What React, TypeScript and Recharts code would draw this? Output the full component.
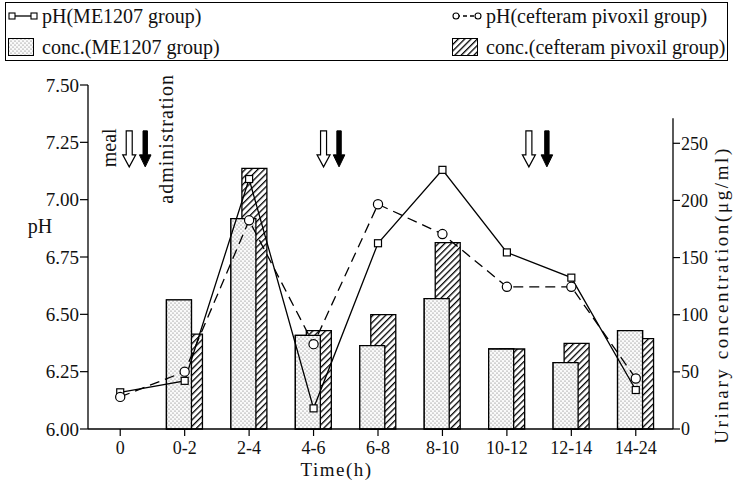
import React from 'react';
import { ComposedChart, Bar, Line, XAxis, YAxis, ReferenceDot, Legend, Label } from 'recharts';

const categories = ['0', '0-2', '2-4', '4-6', '6-8', '8-10', '10-12', '12-14', '14-24'];
const phME1207 = [6.16, 6.21, 7.09, 6.09, 6.81, 7.13, 6.77, 6.66, 6.17];
const phCefteram = [6.14, 6.25, 6.91, 6.37, 6.98, 6.85, 6.62, 6.62, 6.22];
const concME1207 = [null, 113, 184, 82, 73, 114, 70, 58, 86];
const concCefteram = [null, 83, 228, 86, 100, 163, 70, 75, 79];
const phTicks = [6, 6.25, 6.5, 6.75, 7, 7.25, 7.5];
const concTicks = [0, 50, 100, 150, 200, 250];
const concDomain = [0, 301];
const concAxisTop = 272;
const arrowCategories = ['0', '4-6', '10-12'];
const arrowPH = 7.3;

const NAME_PH_ME = 'pH(ME1207 group)';
const NAME_PH_CEF = 'pH(cefteram pivoxil group)';
const NAME_CONC_ME = 'conc.(ME1207 group)';
const NAME_CONC_CEF = 'conc.(cefteram pivoxil group)';

const data = categories.map((cat, i) => ({
  cat,
  phME: phME1207[i],
  phCef: phCefteram[i],
  concME: concME1207[i],
  concCef: concCefteram[i],
}));

const FONT = '"Liberation Serif", "Times New Roman", Tinos, "Nimbus Roman", "Nimbus Roman No9 L", FreeSerif, "DejaVu Serif", "Noto Serif", Times, serif';

const SquareDot = (p: any) => {
  if (p.cx == null || p.cy == null) return <g key={p.index} />;
  return (
    <rect key={`s${p.index}`} x={p.cx - 3.5} y={p.cy - 3.5} width={7} height={7} fill="#fff" stroke="#000" strokeWidth={1.2} />
  );
};

const CircleDot = (p: any) => {
  if (p.cx == null || p.cy == null) return <g key={p.index} />;
  return <circle key={`c${p.index}`} cx={p.cx} cy={p.cy} r={4.6} fill="#fff" stroke="#000" strokeWidth={1.2} />;
};

const openArrow = (x: number, y: number) =>
  `M${x - 3},${y} L${x + 3},${y} L${x + 3},${y + 24} L${x + 6.5},${y + 24} L${x},${y + 36} L${x - 6.5},${y + 24} L${x - 3},${y + 24} Z`;
const blackArrow = (x: number, y: number) =>
  `M${x - 2.2},${y} L${x + 2.2},${y} L${x + 2.2},${y + 24} L${x + 5.8},${y + 24} L${x},${y + 36} L${x - 5.8},${y + 24} L${x - 2.2},${y + 24} Z`;

const arrowOffsets = [
  [9, 25],
  [10, 25.5],
  [22, 40],
];

const ArrowPair = ({ cx, cy, idx }: { cx: number; cy: number; idx: number }) => {
  const [o, b] = arrowOffsets[idx];
  const mealX = cx - 11.5;
  const mealY = cy + 17;
  const admX = cx + 46;
  const admY = cy + 8;
  return (
    <g>
      <path d={openArrow(cx + o, cy)} fill="#fff" stroke="#000" strokeWidth={1.2} />
      <path d={blackArrow(cx + b, cy)} fill="#000" stroke="#000" strokeWidth={1} />
      {idx === 0 && (
        <>
          <text x={mealX} y={mealY} transform={`rotate(-90 ${mealX} ${mealY})`} textAnchor="middle" dominantBaseline="central" fontFamily={FONT} fontSize={20} fill="#111">
            meal
          </text>
          <text x={admX} y={admY} transform={`rotate(-90 ${admX} ${admY})`} textAnchor="middle" dominantBaseline="central" fontFamily={FONT} fontSize={20} letterSpacing={1} fill="#111">
            administration
          </text>
        </>
      )}
    </g>
  );
};

const LineSwatch = ({ dashed, square }: { dashed: boolean; square: boolean }) => (
  <svg width={30} height={12} style={{ display: 'block' }}>
    <line x1={4} y1={6} x2={26} y2={6} stroke="#000" strokeWidth={1.3} strokeDasharray={dashed ? '4 3' : undefined} />
    {square ? (
      <>
        <rect x={1} y={3} width={6} height={6} fill="#fff" stroke="#000" strokeWidth={1.1} />
        <rect x={23} y={3} width={6} height={6} fill="#fff" stroke="#000" strokeWidth={1.1} />
      </>
    ) : (
      <>
        <circle cx={4} cy={6} r={3} fill="#fff" stroke="#000" strokeWidth={1.1} />
        <circle cx={26} cy={6} r={3} fill="#fff" stroke="#000" strokeWidth={1.1} />
      </>
    )}
  </svg>
);

const BoxSwatch = ({ pattern }: { pattern: string }) => (
  <svg width={26} height={18} style={{ display: 'block' }}>
    <rect x={0.5} y={0.5} width={25} height={17} fill={`url(#${pattern})`} stroke="#000" strokeWidth={1} />
  </svg>
);

const LegendContent = () => {
  const textStyle: React.CSSProperties = { fontFamily: FONT, fontSize: 20, color: '#111', whiteSpace: 'nowrap', lineHeight: '22px' };
  const cell = (swatch: React.ReactNode, text: string) => (
    <div style={{ display: 'flex', alignItems: 'center', height: 26 }}>
      <div style={{ width: 34, display: 'flex', justifyContent: 'flex-start' }}>{swatch}</div>
      <span style={textStyle}>{text}</span>
    </div>
  );
  return (
    <div style={{ border: '1.5px solid #000', width: 723, height: 59, boxSizing: 'border-box', padding: '0 0 0 2px', display: 'grid', gridTemplateColumns: '444px 276px', alignContent: 'space-between' }}>
      {cell(<LineSwatch dashed={false} square={true} />, NAME_PH_ME)}
      {cell(<LineSwatch dashed={true} square={false} />, NAME_PH_CEF)}
      {cell(<BoxSwatch pattern="dotsL" />, NAME_CONC_ME)}
      {cell(<BoxSwatch pattern="hatchL" />, NAME_CONC_CEF)}
    </div>
  );
};

const PatternDefs = ({ suffix }: { suffix: string }) => (
  <defs>
    <pattern id={`dots${suffix}`} patternUnits="userSpaceOnUse" width={4} height={4}>
      <rect width={4} height={4} fill="#fafafa" />
      <circle cx={1} cy={1} r={0.6} fill="#666" />
      <circle cx={3} cy={3} r={0.6} fill="#666" />
    </pattern>
    <pattern id={`hatch${suffix}`} patternUnits="userSpaceOnUse" width={4.5} height={4.5} patternTransform="rotate(45)">
      <rect width={4.5} height={4.5} fill="#fff" />
      <line x1={0} y1={0} x2={0} y2={4.5} stroke="#000" strokeWidth={2.6} />
    </pattern>
  </defs>
);

export default function App() {
  return (
    <div style={{ position: 'absolute', left: 0, top: 0, width: 733, height: 480, background: '#fff' }}>
      <svg width={0} height={0} style={{ position: 'absolute' }}>
        <PatternDefs suffix="L" />
      </svg>
      <ComposedChart
        width={733}
        height={480}
        data={data}
        margin={{ top: 85, right: 0, bottom: 0, left: 0 }}
        barSize={25}
        barGap={-14}
      >
        <PatternDefs suffix="" />
        <Legend
          layout="vertical"
          align="center"
          verticalAlign="middle"
          wrapperStyle={{ position: 'absolute', top: 2, left: 5, width: 723 }}
          content={<LegendContent />}
        />
        <XAxis
          xAxisId="main"
          dataKey="cat"
          height={51}
          padding={{ left: 0, right: 5 }}
          tickSize={7}
          tickMargin={5}
          axisLine={{ stroke: '#000', strokeWidth: 1.3 }}
          tickLine={{ stroke: '#000', strokeWidth: 1.2 }}
          tick={{ fontFamily: FONT, fontSize: 18, fill: '#111' }}
          interval={0}
        >
          <Label
            content={(p: any) => {
              const vb = p.viewBox;
              const x = vb.x + vb.width / 2 - 44;
              const y = vb.y + 40;
              return (
                <text x={x} y={y} textAnchor="middle" dominantBaseline="central" fontFamily={FONT} fontSize={19} letterSpacing={1.5} fill="#111">
                  Time(h)
                </text>
              );
            }}
          />
        </XAxis>
        <XAxis xAxisId="over" dataKey="cat" hide padding={{ left: 0, right: 5 }} />
        <YAxis
          yAxisId="ph"
          orientation="left"
          width={88}
          domain={[6, 7.5]}
          ticks={phTicks}
          tickFormatter={(v: number) => v.toFixed(2)}
          tickSize={8}
          tickMargin={1}
          axisLine={{ stroke: '#000', strokeWidth: 1.3 }}
          tickLine={{ stroke: '#000', strokeWidth: 1.2 }}
          tick={{ fontFamily: FONT, fontSize: 19, fill: '#111' }}
        >
          <Label
            content={(p: any) => {
              const vb = p.viewBox;
              return (
                <text x={vb.x + 40} y={vb.y + vb.height / 2 - 31} textAnchor="middle" dominantBaseline="central" fontFamily={FONT} fontSize={20} fill="#111">
                  pH
                </text>
              );
            }}
          />
        </YAxis>
        <YAxis
          yAxisId="conc"
          orientation="right"
          width={60}
          domain={concDomain}
          ticks={concTicks}
          tickSize={7}
          tickMargin={1}
          axisLine={false}
          tickLine={{ stroke: '#000', strokeWidth: 1.2 }}
          tick={{ fontFamily: FONT, fontSize: 18, fill: '#111' }}
        >
          <Label
            content={(p: any) => {
              const vb = p.viewBox;
              const x = vb.x + 48;
              const y = vb.y + vb.height / 2 + 38;
              const bottom = vb.y + vb.height;
              const top = bottom - (vb.height * (concAxisTop - concDomain[0])) / (concDomain[1] - concDomain[0]);
              return (
                <g>
                  <line x1={vb.x} y1={bottom} x2={vb.x} y2={top} stroke="#000" strokeWidth={1.3} />
                  <text x={x} y={y} transform={`rotate(-90 ${x} ${y})`} textAnchor="middle" dominantBaseline="central" fontFamily={FONT} fontSize={19} letterSpacing={2.6} fill="#111">
                    Urinary concentration(μg/ml)
                  </text>
                </g>
              );
            }}
          />
        </YAxis>
        <Bar xAxisId="main" yAxisId="conc" dataKey="concME" name={NAME_CONC_ME} fill="url(#dots)" stroke="#000" strokeWidth={1.3} isAnimationActive={false} />
        <Bar xAxisId="main" yAxisId="conc" dataKey="concCef" name={NAME_CONC_CEF} fill="url(#hatch)" stroke="#000" strokeWidth={1.3} isAnimationActive={false} />
        <Bar xAxisId="over" yAxisId="conc" dataKey="concME" name="concME-top" legendType="none" fill="url(#dots)" stroke="#000" strokeWidth={1.3} isAnimationActive={false} />
        <Bar xAxisId="over" yAxisId="conc" dataKey="concCef" name="concCef-slot" legendType="none" fill="none" stroke="none" isAnimationActive={false} />
        <Line
          xAxisId="main"
          yAxisId="ph"
          type="linear"
          dataKey="phME"
          name={NAME_PH_ME}
          stroke="#000"
          strokeWidth={1.3}
          dot={SquareDot}
          activeDot={false}
          isAnimationActive={false}
        />
        <Line
          xAxisId="main"
          yAxisId="ph"
          type="linear"
          dataKey="phCef"
          name={NAME_PH_CEF}
          stroke="#000"
          strokeWidth={1.3}
          strokeDasharray="10 6"
          dot={CircleDot}
          activeDot={false}
          isAnimationActive={false}
        />
        {arrowCategories.map((c, i) => (
          <ReferenceDot
            key={c}
            xAxisId="main"
            yAxisId="ph"
            x={c}
            y={arrowPH}
            r={0}
            ifOverflow="visible"
            shape={(p: any) => <ArrowPair cx={p.cx} cy={p.cy} idx={i} />}
          />
        ))}
      </ComposedChart>
    </div>
  );
}
